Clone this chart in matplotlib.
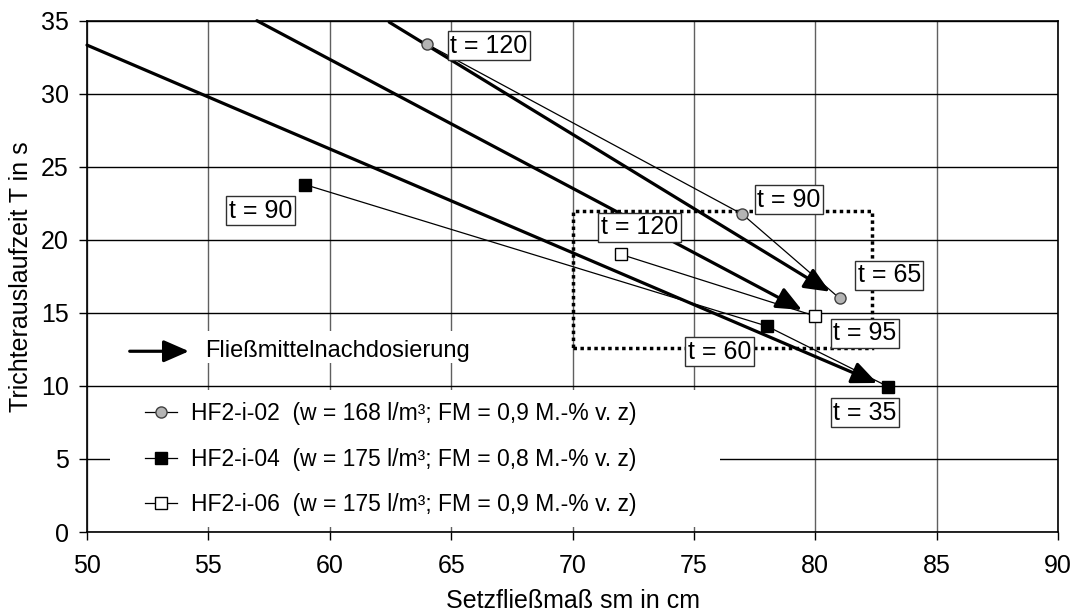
import matplotlib
matplotlib.use("Agg")
import matplotlib.pyplot as plt
from matplotlib.patches import Rectangle

plt.rcParams['font.family'] = ['Liberation Sans', 'DejaVu Sans']

# --- data ---
x02 = [64, 77, 81]
y02 = [33.4, 21.75, 16.0]
x04 = [59, 78, 83]
y04 = [23.77, 14.1, 9.95]
x06 = [72, 80]
y06 = [19.0, 14.78]

labels = ["HF2-i-02  (w = 168 l/m³; FM = 0,9 M.-% v. z)",
          "HF2-i-04  (w = 175 l/m³; FM = 0,8 M.-% v. z)",
          "HF2-i-06  (w = 175 l/m³; FM = 0,9 M.-% v. z)"]

# arrows (Fließmittelnachdosierung): start -> end
arrow_start = [(62.45, 34.9), (57.0, 35.0), (50.0, 33.33)]
arrow_end = [(80.6, 16.45), (79.45, 15.2), (82.55, 10.2)]

# time labels
t_texts = ["t = 120", "t = 90", "t = 65", "t = 95", "t = 35", "t = 60", "t = 120", "t = 90"]
t_x = [66.55, 78.92, 83.05, 82.05, 82.05, 76.06, 72.76, 57.15]
t_y = [33.3, 22.76, 17.56, 13.62, 8.15, 12.35, 20.86, 22.0]

# dotted region
region_x = (70.03, 82.35)
region_y = (12.57, 21.95)

xticks = [50, 55, 60, 65, 70, 75, 80, 85, 90]
yticks = [0, 5, 10, 15, 20, 25, 30, 35]

FS = 18

fig = plt.figure(figsize=(10.76, 6.15), dpi=100)
ax = fig.add_axes([87/1076, 1 - 532/615, 971/1076, 511.3/615])
ax.set_xlim(50, 90)
ax.set_ylim(0, 35)
ax.set_xticks(xticks)
ax.set_yticks(yticks)
ax.tick_params(direction='out', length=6, width=1, labelsize=FS, colors='black')
ax.tick_params(axis='x', pad=10)
ax.tick_params(axis='y', pad=7)
for s in ax.spines.values():
    s.set_linewidth(1.2)
    s.set_color('black')
ax.set_axisbelow(True)
ax.grid(axis='y', color='black', lw=1.0, zorder=0)
ax.grid(axis='x', color='#606060', lw=1.0, zorder=0)

ax.set_xlabel("Setzfließmaß sm in cm", fontsize=FS, labelpad=8)
ax.set_ylabel("Trichterauslaufzeit T in s", fontsize=FS, labelpad=6)

# dotted rectangle
ax.add_patch(Rectangle((region_x[0], region_y[0]), region_x[1] - region_x[0],
                       region_y[1] - region_y[0], fill=False, ec='black',
                       lw=2.5, ls=(0, (1, 1)), zorder=2))

# series lines
ax.plot(x02, y02, '-', color='black', lw=0.9, marker='o', ms=8, mfc='#b4b4b4',
        mec='#404040', mew=1.0, zorder=4, label=labels[0])
ax.plot(x04, y04, '-', color='black', lw=0.9, marker='s', ms=8, mfc='black',
        mec='black', mew=1.0, zorder=4, label=labels[1])
ax.plot(x06, y06, '-', color='black', lw=0.9, marker='s', ms=8, mfc='white',
        mec='black', mew=1.0, zorder=4, label=labels[2])

# arrows
for (xs, ys), (xe, ye) in zip(arrow_start, arrow_end):
    ax.annotate("", xy=(xe, ye), xytext=(xs, ys),
                arrowprops=dict(arrowstyle='-|>,head_length=0.55,head_width=0.24',
                                lw=2.3, color='black', mutation_scale=28,
                                shrinkA=0, shrinkB=0),
                zorder=3, annotation_clip=False)

# time label boxes
for txt, tx, ty in zip(t_texts, t_x, t_y):
    ax.text(tx, ty, txt, fontsize=FS, ha='center', va='center', zorder=6,
            bbox=dict(boxstyle='square,pad=0.1', fc='white', ec='#303030', lw=1.0))

# Fließmittelnachdosierung key
ax.add_patch(Rectangle((0.005, 0.33), 0.41, 0.063, transform=ax.transAxes,
                       fc='white', ec='none', zorder=1))
ax.annotate("", xy=(0.105, 0.3535), xytext=(0.044, 0.3535),
            xycoords='axes fraction', textcoords='axes fraction',
            arrowprops=dict(arrowstyle='-|>,head_length=0.55,head_width=0.24',
                            lw=2.3, color='black', mutation_scale=28,
                            shrinkA=0, shrinkB=0), zorder=5)
ax.text(0.122, 0.3535, "Fließmittelnachdosierung", transform=ax.transAxes,
        fontsize=17, ha='left', va='center', zorder=5)

# legend background
ax.add_patch(Rectangle((0.0237, 0.0098), 0.628, 0.268, transform=ax.transAxes,
                       fc='white', ec='none', zorder=1))
leg = ax.legend(loc='upper left', bbox_to_anchor=(0.0597, 0.2533), fontsize=16.5,
                frameon=False, handlelength=1.38, handletextpad=0.65,
                labelspacing=0.98, borderpad=0, borderaxespad=0)
leg.set_zorder(5)

fig.savefig("out.png", dpi=100)
